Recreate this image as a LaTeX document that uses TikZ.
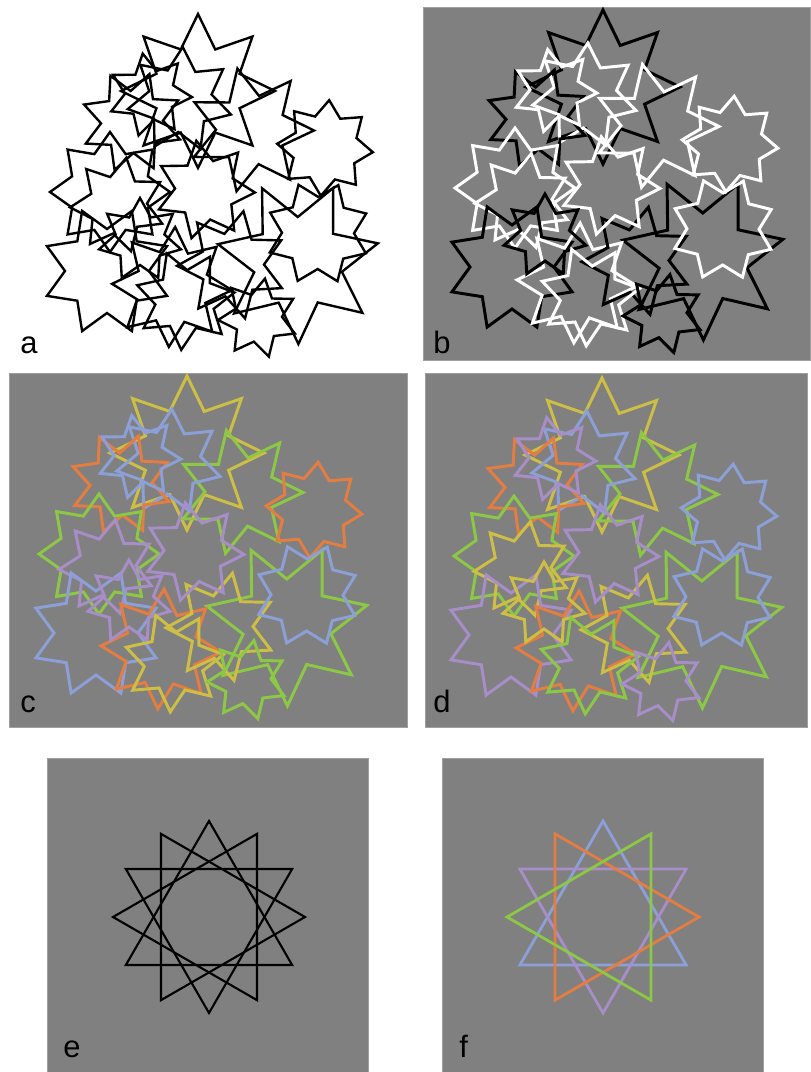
\documentclass[tikz,border=0pt]{standalone}
\usepackage{fontspec}
\setmainfont{Liberation Sans}
\definecolor{panelgray}{RGB}{128,128,128}
\definecolor{starY}{RGB}{205,190,70}
\definecolor{starO}{RGB}{228,125,65}
\definecolor{starG}{RGB}{140,200,70}
\definecolor{starB}{RGB}{140,160,215}
\definecolor{starP}{RGB}{168,142,200}
% x / y / points / outer / inner / turn / colour in b / in c / in d
\newcommand{\starlist}{%
  198/91/8/77/45/90/black/starY/starY,
  298/262/7/82/45/116/black/starG/starG,
  251/130/7/63/35/51/white/starG/starG,
  180/100/7/53/32/87/white/starB/starB,
  132/122/8/51/31/25/black/starO/starO,
  325/148/8/48/33/85/white/starO/starB,
  110/192/8/60/41/90/white/starG/starG,
  118/205/7/48/29/80/white/starP/starY,
  107/271/8/65/42/67.5/black/starB/starP,
  172/287/8/60/37/87/white/starO/starO,
  232/265/7/55/32/78/black/starY/starY,
  318/233/8/52/36/67/white/starB/starB,
  150/95/7/42/25/100/white/starB/starP,
  205/190/7/50/30/100/white/starP/starP,
  140/240/7/42/25/90/black/starP/starY,
  185/300/7/50/30/60/white/starY/starG,
  258/318/7/40/24/80/black/starG/starP}

\begin{document}
\begin{tikzpicture}[x=0.025cm, y=-0.025cm,
    panel/.style={fill=panelgray, draw=gray!75, line width=0.6pt},
    outline/.style={line width=1.7pt, line join=miter},
    thick outline/.style={line width=2.1pt, line join=miter},
    tri/.style={line width=1.5pt, line join=miter},
    letter/.style={font=\fontsize{22}{26}\selectfont, anchor=base west, inner sep=0pt}
  ]
  \useasboundingbox (0,0) rectangle (810,1072);

  % panels
  \fill[panel] (423,7) rectangle (810,360);
  \fill[panel] (9,373) rectangle (407,727);
  \fill[panel] (425,373) rectangle (807,727);
  \fill[panel] (47,758) rectangle (368,1072);
  \fill[panel] (442,758) rectangle (763,1072);

  % a: black on white
  \foreach \cx/\cy/\n/\R/\r/\t/\kb/\kc/\kd in \starlist
    \draw[outline, draw=black, shift={(\cx,\cy)}] (-\t:\R)
      \foreach \k in {1,...,\n} { -- ({-\t-(\k-0.5)*360/\n}:\r) -- ({-\t-\k*360/\n}:\R) } -- cycle;

  % b: black and white
  \begin{scope}[shift={(405,-4)}]
    \foreach \cx/\cy/\n/\R/\r/\t/\kb/\kc/\kd in \starlist
      \draw[thick outline, draw=\kb, shift={(\cx,\cy)}] (-\t:\R)
        \foreach \k in {1,...,\n} { -- ({-\t-(\k-0.5)*360/\n}:\r) -- ({-\t-\k*360/\n}:\R) } -- cycle;
  \end{scope}

  % c: colours
  \begin{scope}[shift={(-11,362)}]
    \foreach \cx/\cy/\n/\R/\r/\t/\kb/\kc/\kd in \starlist
      \draw[thick outline, draw=\kc, shift={(\cx,\cy)}] (-\t:\R)
        \foreach \k in {1,...,\n} { -- ({-\t-(\k-0.5)*360/\n}:\r) -- ({-\t-\k*360/\n}:\R) } -- cycle;
  \end{scope}

  % d: colours again
  \begin{scope}[shift={(404,364)}]
    \foreach \cx/\cy/\n/\R/\r/\t/\kb/\kc/\kd in \starlist
      \draw[thick outline, draw=\kd, shift={(\cx,\cy)}] (-\t:\R)
        \foreach \k in {1,...,\n} { -- ({-\t-(\k-0.5)*360/\n}:\r) -- ({-\t-\k*360/\n}:\R) } -- cycle;
  \end{scope}

  % e and f: four triangles
  \foreach \a in {90,270,0,180}
    \draw[tri, draw=black, shift={(209,917)}] (-\a:96) -- (-\a-120:96) -- (-\a-240:96) -- cycle;
  \foreach \a/\col in {90/starB,270/starP,0/starO,180/starG}
    \draw[tri, line width=2pt, draw=\col, shift={(603,917)}] (-\a:96) -- (-\a-120:96) -- (-\a-240:96) -- cycle;

  \node[letter] (lbla) at (20,353) {a};
  \node[letter] (lblb) at (433,353) {b};
  \node[letter] (lblc) at (20,712) {c};
  \node[letter] (lbld) at (433,712) {d};
  \node[letter] (lble) at (63,1057) {e};
  \node[letter] (lblf) at (459,1057) {f};
\end{tikzpicture}
\end{document}
